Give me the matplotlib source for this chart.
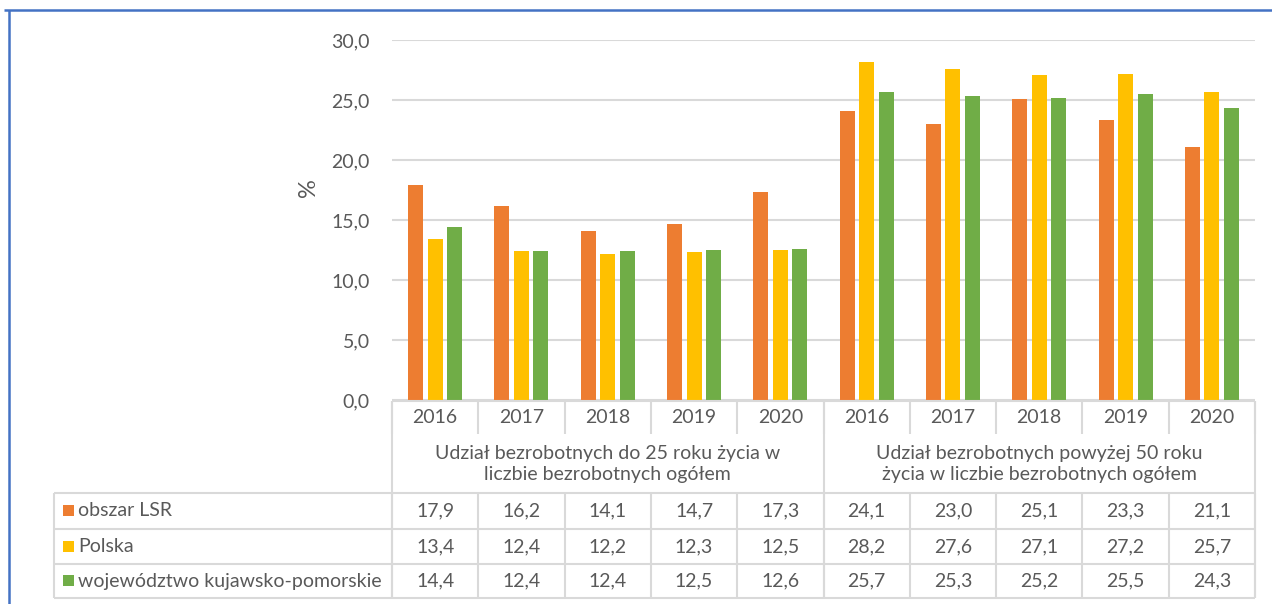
import matplotlib
matplotlib.use("Agg")
import matplotlib.pyplot as plt
import numpy as np

plt.rcParams['font.family'] = ['Lato', 'DejaVu Sans']

# --- data -------------------------------------------------------------
years = ["2016", "2017", "2018", "2019", "2020"]
groups = [
    "Udział bezrobotnych do 25 roku życia w\nliczbie bezrobotnych ogółem",
    "Udział bezrobotnych powyżej 50 roku\nżycia w liczbie bezrobotnych ogółem",
]
series_names = ["obszar LSR", "Polska", "województwo kujawsko-pomorskie"]
obszar_lsr = [17.9, 16.2, 14.1, 14.7, 17.3, 24.1, 23.0, 25.1, 23.3, 21.1]
polska = [13.4, 12.4, 12.2, 12.3, 12.5, 28.2, 27.6, 27.1, 27.2, 25.7]
kujawsko_pomorskie = [14.4, 12.4, 12.4, 12.5, 12.6, 25.7, 25.3, 25.2, 25.5, 24.3]
y_ticks = [0, 5, 10, 15, 20, 25, 30]

series = [obszar_lsr, polska, kujawsko_pomorskie]
colors = ["#ED7D31", "#FFC000", "#70AD47"]
TEXT = "#595959"
GRID = "#D9D9D9"
FS = 14

W, H = 1272, 604
fig = plt.figure(figsize=(W / 100, H / 100), dpi=100)
fig.patch.set_facecolor("white")

# plot area in pixel coordinates
left, right, top, bottom = 392, 1255, 40, 400
ax = fig.add_axes([left / W, 1 - bottom / H, (right - left) / W, (bottom - top) / H])

n = len(obszar_lsr)
x = np.arange(n)
bw = 0.174
step = 0.226
for i, (vals, col) in enumerate(zip(series, colors)):
    ax.bar(x + (i - 1) * step, vals, bw, color=col, linewidth=0, zorder=3)

ax.set_xlim(-0.5, n - 0.5)
ax.set_ylim(0, 30)
ax.set_yticks(y_ticks)
ax.set_yticklabels([f"{v:.1f}".replace(".", ",") for v in y_ticks],
                   fontsize=FS, color=TEXT)
ax.set_xticks([])
ax.tick_params(axis="y", length=0, pad=16)
ax.yaxis.grid(True, color=GRID, linewidth=1.5, zorder=0)
for s in ax.spines.values():
    s.set_visible(False)
ax.set_ylabel("%", fontsize=17, color=TEXT)
ax.yaxis.set_label_coords(-0.085, 0.59)

# --- overlay in pixel coordinates for the data table ------------------
ov = fig.add_axes([0, 0, 1, 1], facecolor="none")
ov.set_xlim(0, W)
ov.set_ylim(H, 0)
ov.axis("off")

def hline(x0, x1, y, color=GRID, lw=1.5):
    ov.plot([x0, x1], [y, y], color=color, lw=lw, solid_capstyle="butt")

def vline(xp, y0, y1, color=GRID, lw=1.5):
    ov.plot([xp, xp], [y0, y1], color=color, lw=lw, solid_capstyle="butt")

col_w = (right - left) / n
col_edges = [left + k * col_w for k in range(n + 1)]
y_axis = 401
y_year_bot = 434
y_rows = [493, 529, 564, 598]
tab_left = 54

# year row
hline(left, right, y_axis)
for k in range(n + 1):
    vline(col_edges[k], y_axis, y_year_bot)
for k in range(n):
    ov.text((col_edges[k] + col_edges[k + 1]) / 2, (y_axis + y_year_bot) / 2,
            years[k % len(years)], ha="center", va="center",
            fontsize=FS, color=TEXT)

# group row
mid = col_edges[len(years)]
for xp in (left, mid, right):
    vline(xp, y_axis, y_rows[-1])
ov.text((left + mid) / 2, 464, groups[0], ha="center", va="center",
        fontsize=FS, color=TEXT, linespacing=1.3)
ov.text((mid + right) / 2, 464, groups[1], ha="center", va="center",
        fontsize=FS, color=TEXT, linespacing=1.3)

# data rows
for yv in y_rows:
    hline(tab_left, right, yv)
vline(tab_left, y_rows[0], y_rows[-1])
for k in range(n + 1):
    vline(col_edges[k], y_rows[0], y_rows[-1])

for r, (name, vals, col) in enumerate(zip(series_names, series, colors)):
    yc = (y_rows[r] + y_rows[r + 1]) / 2
    ov.add_patch(plt.Rectangle((63, yc - 6), 11, 11, color=col, lw=0))
    ov.text(78, yc, name, ha="left", va="center", fontsize=FS, color=TEXT)
    for k, v in enumerate(vals):
        ov.text((col_edges[k] + col_edges[k + 1]) / 2, yc,
                f"{v:.1f}".replace(".", ","), ha="center", va="center",
                fontsize=FS, color=TEXT)

# outer frame
hline(4, W, 10, color="#4472C4", lw=1.8)
vline(9, 10, H, color="#4472C4", lw=1.8)

fig.savefig("out.png", dpi=100)
